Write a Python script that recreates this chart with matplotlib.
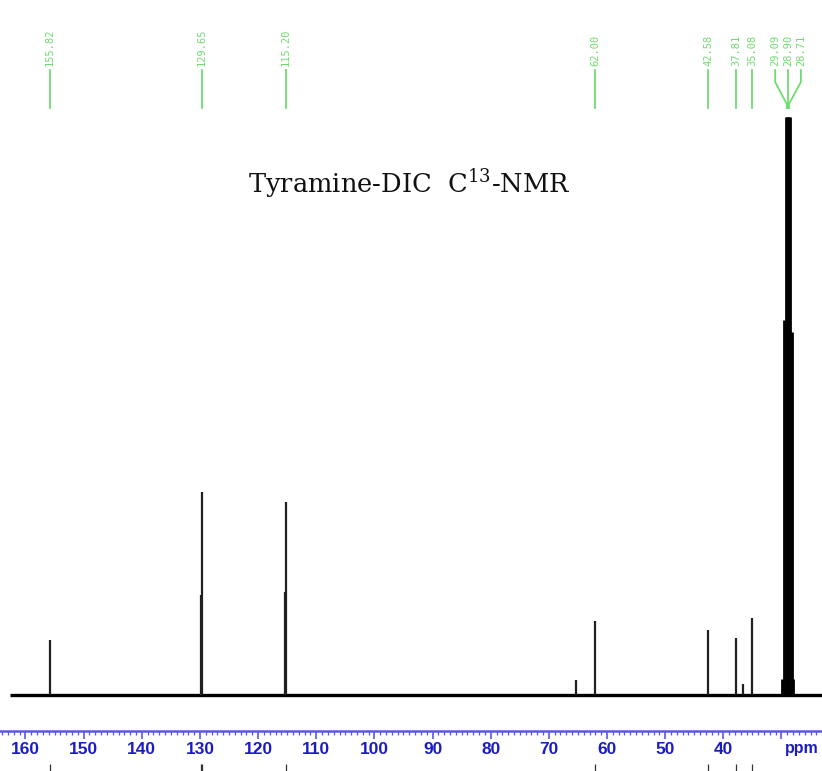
import numpy as np
import matplotlib
matplotlib.use("Agg")
import matplotlib.pyplot as plt
from matplotlib.ticker import MultipleLocator, FixedLocator

# 13C NMR spectrum of Tyramine-DIC, peak list

# peak positions (ppm) and heights (relative, 129.65 = 100)
peak_ppm = [155.82, 129.90, 129.65, 115.40, 115.20, 65.30, 62.00,
            42.58, 37.81, 36.60, 35.08]
peak_height = [27.1, 49.3, 100.0, 50.7, 95.1, 7.4, 36.5,
               32.0, 28.1, 5.4, 37.9]

# solvent multiplet near 29 ppm (clipped at top of plot)
solv_ppm = [29.90, 29.62, 29.28, 29.09, 28.90, 28.71, 28.52, 28.22, 27.95]
solv_height = [8.0, 184.7, 400.0, 400.0, 400.0, 400.0, 400.0, 178.8, 8.0]

# peak-picking labels
label_ppm = [155.82, 129.65, 115.20, 62.00, 42.58, 37.81, 35.08]
cluster_ppm = [29.09, 28.90, 28.71]
cluster_label_x = [29.13 + 1.95, 28.90, 28.71 - 2.05]

major_ticks = list(range(160, 30, -10))
tick_labels = [str(t) for t in major_ticks]

SPEC_START, SPEC_END = 162.7, 23.0
XLIM = (164.385, 23.03)
CLIP = 284.7

W, H = 822, 771
fig = plt.figure(figsize=(W / 100, H / 100), dpi=100)
ax_bottom_px = 731
ax = fig.add_axes([0, (H - ax_bottom_px) / H, 1, ax_bottom_px / H])
ax.set_xlim(*XLIM)
ax.set_ylim(-17.73, 342.4)

# baseline
ax.plot([SPEC_START, SPEC_END], [0, 0], color="black", lw=2.4, solid_capstyle="butt")

# peaks
ax.vlines(peak_ppm, 0, np.minimum(peak_height, CLIP), color="#202020", lw=1.6)
ax.vlines(solv_ppm, 0, np.minimum(solv_height, CLIP), color="black", lw=2.0)

# axis styling
for s in ["top", "left", "right"]:
    ax.spines[s].set_visible(False)
ax.spines["bottom"].set_color("#5a5ad8")
ax.spines["bottom"].set_linewidth(1.8)
ax.yaxis.set_visible(False)
ax.xaxis.set_major_locator(FixedLocator(major_ticks + [30]))
ax.xaxis.set_minor_locator(MultipleLocator(1))
ax.set_xticklabels(tick_labels + [""])
ax.tick_params(axis="x", which="major", direction="out", length=6, width=1.2,
               color="#5a5ad8", pad=2.0, labelsize=12.5, labelcolor="#1c1cc4")
ax.tick_params(axis="x", which="minor", direction="out", length=3.2, width=0.9,
               color="#5a5ad8")
for lab in ax.get_xticklabels():
    lab.set_fontweight("bold")
    lab.set_family("Liberation Sans")

fig.text(785 / W, 1 - 749 / H, "ppm", ha="left", va="center", fontsize=11.5,
         fontweight="bold", color="#1c1cc4", family="Liberation Sans")

# peak labels in green
tr = ax.get_xaxis_transform()
def yfrac(ypx):
    return (ax_bottom_px - ypx) / ax_bottom_px

green = "#6fdc6f"
for p in label_ppm:
    ax.plot([p, p], [yfrac(70), yfrac(108)], color=green, lw=1.3,
            transform=tr, clip_on=False)
    ax.text(p, yfrac(66), f"{p:.2f}", rotation=90, ha="center", va="bottom",
            fontsize=7.5, color=green, family="DejaVu Sans Mono",
            transform=tr, clip_on=False)

for p, lx in zip(cluster_ppm, cluster_label_x):
    ax.plot([lx, lx, p, p], [yfrac(70), yfrac(82), yfrac(104), yfrac(108)],
            color=green, lw=1.3, transform=tr, clip_on=False)
    ax.text(lx, yfrac(66), f"{p:.2f}", rotation=90, ha="center", va="bottom",
            fontsize=7.5, color=green, family="DejaVu Sans Mono",
            transform=tr, clip_on=False)

# small marks below labels
ax.vlines(peak_ppm[:3] + label_ppm[2:], yfrac(771), yfrac(764), color="#333333",
          lw=0.9, transform=tr, clip_on=False)

# title
plt.rcParams["mathtext.fontset"] = "dejavuserif"
fig.text(409 / W, 1 - 193 / H, "Tyramine-DIC  C$^{13}$-NMR", ha="center",
         va="baseline", fontsize=18.5, family="DejaVu Serif", color="#111111")

fig.savefig("out.png", dpi=100)
